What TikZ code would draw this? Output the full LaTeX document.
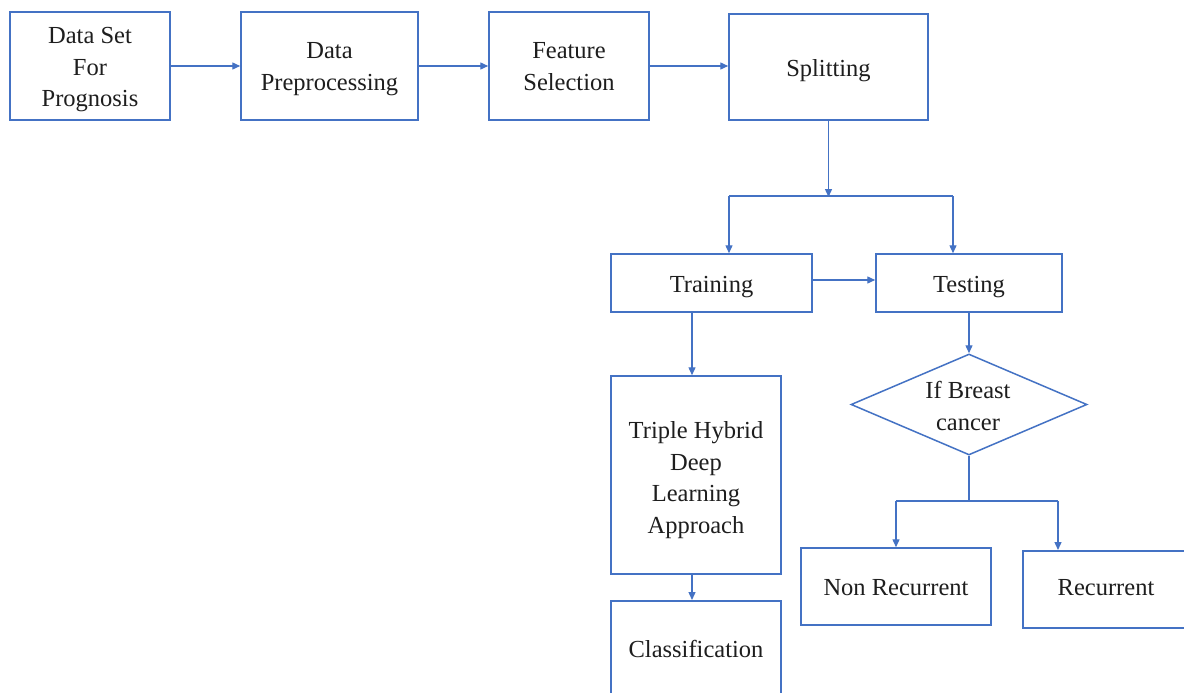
\documentclass[tikz,border=0pt]{standalone}
\usepackage{fontspec}
\setmainfont{Liberation Serif}
\usetikzlibrary{arrows.meta,shapes.geometric}
\definecolor{lineblue}{RGB}{68,114,196}
\definecolor{txt}{RGB}{30,30,30}
\tikzset{
  box/.style={draw=lineblue, line width=1.5pt, rectangle, inner sep=0pt},
  lbl/.style={inner sep=0pt, align=center, text=txt, font=\fontsize{24.5}{31.5}\selectfont},
  arr/.style={draw=lineblue, line width=1.4pt, -{Triangle[length=8pt,width=7pt]}},
  ln/.style={draw=lineblue, line width=1.4pt}
}
\begin{document}
\begin{tikzpicture}[x=1pt,y=-1pt]
\useasboundingbox (0,0) rectangle (1184,693);
\clip (0,0) rectangle (1184,693);
\fill[white] (0,0) rectangle (1184,693);
% top row
\node[box, minimum width=160, minimum height=108] (ds) at (90,66) {};
\node[lbl] (dst) at ([yshift=-4pt]ds.center) {Data Set\\For\\Prognosis};
\node[box, minimum width=177, minimum height=108] (dp) at (329.5,66) {};
\node[lbl] (dpt) at ([yshift=-3pt]dp.center) {Data\\Preprocessing};
\node[box, minimum width=160, minimum height=108] (fs) at (569,66) {};
\node[lbl] (fst) at ([yshift=-0.5pt]fs.center) {Feature\\Selection};
\node[box, minimum width=199, minimum height=106] (sp) at (828.5,67) {};
\node[lbl] (spt) at ([yshift=-4pt]sp.center) {Splitting};
\draw[arr] (ds.east) -- (dp.west);
\draw[arr] (dp.east) -- (fs.west);
\draw[arr] (fs.east) -- (fs.east -| sp.west);
% training / testing
\node[box, minimum width=201, minimum height=58] (tr) at (711.5,283) {};
\node[lbl] (trt) at ([yshift=-4pt]tr.center) {Training};
\node[box, minimum width=186, minimum height=58] (te) at (969,283) {};
\node[lbl] (tet) at ([yshift=-4pt]te.center) {Testing};
\coordinate (j1) at (828.5,196);
\coordinate (jl) at (729,196);
\coordinate (jr) at (953,196);
\draw[arr] (sp.south) -- ([yshift=-1pt]j1);
\draw[ln] (jl) -- (jr);
\draw[arr] (jl) -- (jl |- tr.north);
\draw[arr] (jr) -- (jr |- te.north);
\coordinate (tt) at (0,280);
\draw[arr] (tr.east |- tt) -- (te.west |- tt);
% left branch
\node[box, minimum width=170, minimum height=198] (tb) at (696,475) {};
\node[lbl] (tbt) at ([yshift=-5pt]tb.center) {Triple Hybrid\\Deep\\Learning\\Approach};
\node[box, minimum width=170, minimum height=160, anchor=north] (cl) at (696,600) {};
\node[lbl] (clt) at (696,649) {Classification};
\coordinate (xa) at (692,0);
\draw[arr] (xa |- tr.south) -- (xa |- tb.north);
\draw[arr] (xa |- tb.south) -- (xa |- cl.north);
% right branch
\node[draw=lineblue, line width=1.5pt, diamond, minimum width=236, minimum height=101, inner sep=0pt] (dm) at (969,404.5) {};
\node[lbl] (dmt) at (968,406) {If Breast\\cancer};
\draw[arr] (te.south) -- (dm.north);
\node[box, minimum width=190, minimum height=77] (nr) at (896,586.5) {};
\node[lbl] (nrt) at ([yshift=-1pt]nr.center) {Non Recurrent};
\node[box, minimum width=200, minimum height=77, anchor=north west] (rc) at (1022,550) {};
\node[lbl] (rct) at (1106,588) {Recurrent};
\coordinate (j2) at (969,501);
\coordinate (j2l) at (896,501);
\coordinate (j2r) at (1058,501);
\draw[ln] (dm.south) -- (j2);
\draw[ln] (j2l) -- (j2r);
\draw[arr] (j2l) -- (j2l |- nr.north);
\draw[arr] (j2r) -- (j2r |- rc.north);
\end{tikzpicture}
\end{document}
